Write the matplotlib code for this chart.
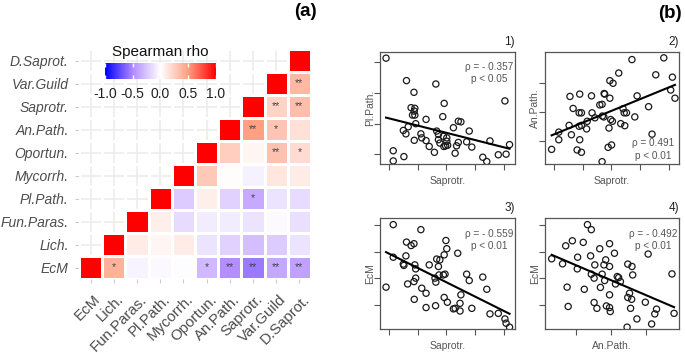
"""
Spearman correlation heatmap of fungal guilds (a) and four scatter plots (b).
"""

from dataclasses import dataclass

import matplotlib

matplotlib.use("Agg")
import matplotlib.pyplot as plt
import numpy as np
from matplotlib.cm import ScalarMappable
from matplotlib.colors import LinearSegmentedColormap, Normalize
from matplotlib.transforms import ScaledTranslation

plt.rcParams["font.family"] = ["Liberation Sans", "DejaVu Sans"]
plt.rcParams["axes.unicode_minus"] = False

W, H = 685, 353

guilds = ["EcM", "Lich.", "Fun.Paras.", "Pl.Path.", "Mycorrh.",
          "Oportun.", "An.Path.", "Saprotr.", "Var.Guild", "D.Saprot."]

# rho of each guild with the guilds after it (upper triangle, row by row)
rho_rows = [
    [0.40, -0.05, -0.03, -0.01, -0.30, -0.49, -0.56, -0.38, -0.40],
    [0.10, 0.05, 0.10, -0.12, -0.20, -0.28, -0.22, -0.12],
    [0.08, -0.15, -0.08, -0.08, -0.12, -0.02, -0.14],
    [-0.22, 0.08, -0.20, -0.36, -0.12, -0.15],
    [0.28, 0.01, -0.06, 0.12, 0.10],
    [0.25, 0.05, 0.32, 0.18],
    [0.49, 0.30, 0.15],
    [0.22, 0.33],
    [0.36],
]
star_rows = [
    ["*", "", "", "", "*", "**", "**", "**", "**"],
    ["", "", "", "", "", "", "", ""],
    ["", "", "", "", "", "", ""],
    ["", "", "", "*", "", ""],
    ["", "", "", "", ""],
    ["", "", "**", "*"],
    ["**", "*", ""],
    ["**", "**"],
    ["**"],
]

# scatter panels (arbitrary units)
p1_saprotr = [-0.10, 0.61, 1.63, 0.87, 4.03, 1.92, 0.77, 0.90, 0.88, 0.90, 0.82, 1.87, 1.29,
              2.41, 2.50, 0.93, 0.67, 2.24, 0.50, 0.59, 2.79, 1.66, 1.72, 1.11, 1.14, 1.89,
              2.01, 2.01, 1.29, 0.88, 1.72, 1.77, 2.41, 2.70, 3.51, 1.40, 1.97, 2.04, 1.91,
              4.19, 2.35, 2.88, 1.58, 2.30, 0.15, 0.15, 0.52, 3.26, 3.40, 3.80, 4.07]
p1_plpath = [3.13, 2.40, 2.29, 2.02, 1.74, 1.66, 1.52, 1.50, 1.41, 1.28, 1.28, 1.23, 1.14,
             1.08, 1.06, 1.00, 0.90, 0.87, 0.78, 0.67, 0.76, 0.76, 0.65, 0.67, 0.54, 0.59,
             0.54, 0.43, 0.45, 0.46, 0.48, 0.37, 0.39, 0.41, 0.44, 0.26, 0.28, 0.30, 0.26,
             0.32, 0.28, 0.24, 0.07, 0.04, 0.12, -0.21, -0.07, -0.09, -0.23, -0.01, 0.01]

p2_saprotr = [-0.08, 0.17, 0.17, 0.53, 0.56, 0.61, 0.67, 0.81, 0.96, 0.90, 0.90, 0.88, 0.96,
              0.88, 0.96, 1.14, 1.16, 1.31, 1.33, 1.43, 1.60, 1.68, 1.75, 1.77, 1.69, 1.74,
              1.68, 1.89, 2.01, 1.92, 1.95, 1.95, 2.06, 1.98, 2.04, 2.26, 2.33, 2.41, 2.47,
              2.45, 2.53, 2.72, 2.82, 2.90, 3.30, 3.42, 3.55, 3.83, 4.07, 4.13, 4.22]
p2_anpath = [-0.27, 0.32, 0.06, 0.55, 1.54, 0.23, 1.13, -0.29, -0.37, 0.06, 1.62, 0.98, 0.98,
             0.52, 0.55, 0.43, 0.69, 1.56, 0.98, 0.81, 1.25, 1.27, 1.64, 1.62, 0.87, 0.84,
             -0.69, -0.20, -0.12, 0.46, 1.48, 2.08, 1.99, 0.75, 0.69, 2.34, 0.61, 1.12, 0.54,
             0.98, 0.98, 2.80, 0.84, 1.56, 1.19, 0.25, 2.28, 2.86, 1.76, 2.20, 1.48]

p3_saprotr = [-0.10, 0.15, 0.15, 0.50, 0.52, 0.59, 0.61, 0.77, 0.87, 0.65, 0.87, 0.93, 0.90,
              0.93, 0.88, 1.11, 1.14, 1.29, 1.29, 1.40, 1.60, 1.63, 1.66, 1.77, 1.72, 1.74,
              1.62, 1.89, 1.95, 1.92, 2.01, 1.98, 1.92, 2.03, 2.24, 2.30, 2.39, 2.47, 2.47,
              2.50, 2.70, 2.79, 2.88, 3.26, 3.40, 3.51, 3.80, 4.03, 4.07, 4.19]
p3_ecm = [0.67, 3.03, 1.80, 1.54, 1.49, 1.85, 2.37, 2.24, 2.31, 0.79, 0.88, 1.01, 1.51,
          1.36, 0.21, 2.84, 0.63, 0.44, -0.10, 1.51, 1.01, 0.86, 1.73, 1.70, 1.45, 1.13,
          -0.03, 1.13, 1.16, 1.89, 2.12, 2.43, 0.28, 0.10, -0.15, -0.13, 1.95, -0.23, 0.06,
          0.38, 1.16, 0.92, -0.13, 1.05, 0.59, -0.34, -0.32, -0.53, -0.69, -0.84]

p4_anpath = [-0.69, -0.38, -0.29, -0.25, -0.22, -0.10, 0.05, 0.04, 0.21, 0.24, 0.33, 0.44,
             0.42, 0.44, 0.54, 0.52, 0.52, 0.60, 0.68, 0.70, 0.75, 0.85, 0.80, 0.82, 0.87,
             0.96, 0.96, 0.96, 0.96, 0.98, 1.10, 1.13, 1.18, 1.22, 1.27, 1.48, 1.60, 1.62,
             1.48, 1.53, 1.59, 1.56, 1.74, 1.46, 1.98, 2.06, 2.16, 2.25, 2.30, 2.74, 2.80]
p4_ecm = [1.74, 1.55, 2.23, 0.67, -0.06, 2.42, 1.80, 1.36, 2.36, 0.59, 3.03, 2.84, 1.85,
          1.16, 1.51, 1.01, 0.09, -0.13, 2.12, 0.66, 1.16, 1.70, 1.51, 0.92, -0.04, 2.31,
          1.45, 0.38, -0.10, -0.25, 1.95, 0.79, 1.07, 1.03, 0.88, 1.54, 1.45, 1.13, 0.28,
          0.44, 0.21, -0.13, -0.53, -0.84, 0.10, 1.92, -0.72, -0.34, -0.16, 1.17, -0.32]


@dataclass
class Panel:
    tag: str
    x: list
    y: list
    xlabel: str
    ylabel: str
    rho: str
    pval: str
    rect_px: tuple  # left, top, right, bottom in pixels
    xlim: tuple
    ylim: tuple
    xticks: list
    yticks: list
    text_y: float


def px_rect(left, top, right, bottom):
    return [left / W, 1 - bottom / H, (right - left) / W, (bottom - top) / H]


def make_cmap():
    # ggplot gradient2 blue-white-red (Lab interpolated stops)
    return LinearSegmentedColormap.from_list(
        "rho", [(0.0, "#0000FF"), (0.25, "#B28BFF"), (0.5, "#FFFFFF"),
                (0.75, "#FF9E81"), (1.0, "#FF0000")])


def draw_heatmap(fig, cmap):
    n = len(guilds)
    matrix = np.full((n, n), np.nan)
    stars = {}
    for i in range(n):
        matrix[i, i] = 1.0
        for k, value in enumerate(rho_rows[i] if i < len(rho_rows) else []):
            matrix[i, i + 1 + k] = value
            if star_rows[i][k]:
                stars[(i, i + 1 + k)] = star_rows[i][k]

    ax = fig.add_axes(px_rect(79, 49, 311, 279))
    ax.set_axisbelow(True)
    ax.grid(color="#EBEBEB", linewidth=1.1)
    edges = np.arange(n + 1) - 0.5
    ax.pcolormesh(edges, edges, np.ma.masked_invalid(matrix), cmap=cmap,
                  vmin=-1, vmax=1, edgecolors="white", linewidth=1.0)
    for (i, j), s in stars.items():
        ax.text(j, i, s, ha="center", va="center", fontsize=7.5, color="#444444")

    ax.set_xlim(-0.5, n - 0.5)
    ax.set_ylim(-0.5, n - 0.5)
    ax.set_xticks(range(n))
    ax.set_yticks(range(n))
    ax.set_xticklabels(guilds, rotation=45, ha="right", va="top",
                       rotation_mode="anchor", fontsize=10.8, color="#4D4D4D")
    ax.set_yticklabels(guilds, fontsize=10, color="#4D4D4D", style="italic")
    ax.tick_params(length=3, color="#CCCCCC", pad=4.5)
    ax.tick_params(axis="x", pad=6.5)
    shift = ScaledTranslation(0.03, 0, fig.dpi_scale_trans)
    for label in ax.get_xticklabels():
        label.set_transform(label.get_transform() + shift)
    for spine in ax.spines.values():
        spine.set_visible(False)

    cax = fig.add_axes(px_rect(105, 63, 216, 79))
    sm = ScalarMappable(norm=Normalize(-1, 1), cmap=cmap)
    cbar = fig.colorbar(sm, cax=cax, orientation="horizontal",
                        ticks=[-1, -0.5, 0, 0.5, 1])
    cbar.outline.set_visible(False)
    cbar.set_ticklabels(["-1.0", "-0.5", "0.0", "0.5", "1.0"])
    cax.tick_params(direction="in", length=3, width=1, color="white",
                    top=True, labelsize=10, pad=6, labelcolor="#222222")
    fig.text(160 / W, 1 - 52 / H, "Spearman rho", ha="center", va="center",
             fontsize=11, color="#111111")


def draw_scatter(fig, p: Panel):
    ax = fig.add_axes(px_rect(*p.rect_px))
    x = np.array(p.x)
    y = np.array(p.y)
    ax.scatter(x, y, s=20, facecolors="none", edgecolors="#1A1A1A", linewidths=0.9)
    slope, intercept = np.polyfit(x, y, 1)
    xs = np.array([x.min(), x.max()])
    ax.plot(xs, intercept + slope * xs, color="black", linewidth=1.5)

    ax.set_xlim(*p.xlim)
    ax.set_ylim(*p.ylim)
    ax.set_xticks(p.xticks)
    ax.set_yticks(p.yticks)
    ax.tick_params(length=4, width=0.8, color="#555555",
                   labelbottom=False, labelleft=False)
    for spine in ax.spines.values():
        spine.set_color("#555555")
        spine.set_linewidth(0.9)

    ax.set_xlabel(p.xlabel, fontsize=7.5, color="#555555")
    ax.xaxis.set_label_coords(0.5, -0.11)
    ax.set_ylabel(p.ylabel, fontsize=7.5, color="#555555")
    ax.yaxis.set_label_coords(-0.035, 0.5)
    ax.text(0.81, p.text_y, p.rho, transform=ax.transAxes, ha="center",
            va="center", fontsize=7.2, color="#555555")
    ax.text(0.81, p.text_y - 0.115, p.pval, transform=ax.transAxes, ha="center",
            va="center", fontsize=7.2, color="#555555")
    ax.text(1.0, 1.04, p.tag, transform=ax.transAxes, ha="right", va="bottom",
            fontsize=8.5, color="#222222")


def main() -> None:
    fig = plt.figure(figsize=(W / 100, H / 100), dpi=100)
    cmap = make_cmap()
    draw_heatmap(fig, cmap)

    panels = [
        Panel("1)", p1_saprotr, p1_plpath, "Saprotr.", "Pl.Path.",
              "ρ = - 0.357", "p < 0.05", (380, 52, 515, 164),
              (-0.31, 4.38), (-0.31, 3.33), [0, 1, 2, 3, 4], [0, 1, 2, 3], 0.87),
        Panel("2)", p2_saprotr, p2_anpath, "Saprotr.", "An.Path.",
              "ρ = 0.491", "p < 0.01", (545, 52, 679, 164),
              (-0.31, 4.36), (-0.77, 3.06), [0, 1, 2, 3, 4], [0, 1, 2], 0.19),
        Panel("3)", p3_saprotr, p3_ecm, "Saprotr.", "EcM",
              "ρ = - 0.559", "p < 0.01", (380, 218, 515, 329),
              (-0.31, 4.38), (-0.91, 3.28), [0, 1, 2, 3, 4], [0, 1, 2, 3], 0.86),
        Panel("4)", p4_anpath, p4_ecm, "An.Path.", "EcM",
              "ρ = - 0.492", "p < 0.01", (545, 218, 679, 329),
              (-0.88, 2.94), (-0.91, 3.28), [0, 1, 2], [0, 1, 2, 3], 0.86),
    ]
    for panel in panels:
        draw_scatter(fig, panel)

    fig.text(305 / W, 1 - 11 / H, "(a)", ha="center", va="center",
             fontsize=13.5, fontweight="bold")
    fig.text(670 / W, 1 - 13 / H, "(b)", ha="center", va="center",
             fontsize=13.5, fontweight="bold")
    fig.savefig("out.png", dpi=100)


if __name__ == "__main__":
    main()
